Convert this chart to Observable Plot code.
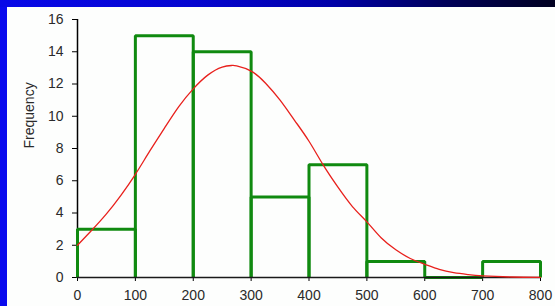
<!DOCTYPE html>
<html>
<head>
<meta charset="utf-8">
<script src="https://cdn.jsdelivr.net/npm/d3@7"></script>
<script src="https://cdn.jsdelivr.net/npm/@observablehq/plot@0.6"></script>
<style>
  html, body { margin: 0; padding: 0; background: #fff; }
  #wrap { position: relative; width: 555px; height: 306px; overflow: hidden; background: #fdfefd; }
  #chart { position: absolute; left: 0; top: 0; }
  #left { position: absolute; left: 0; top: 0; width: 7px; height: 306px; background: #0a0aee; }
  #top { position: absolute; left: 0; top: 0; width: 555px; height: 7px;
         background: linear-gradient(to right, #0808e8 0%, #0505d0 35%, #0000a8 60%, #00005a 80%, #000020 100%); }
</style>
</head>
<body>
<div id="wrap"><div id="chart"></div><div id="left"></div><div id="top"></div></div>
<script>
// Histogram bins (lower edge, upper edge) and counts
const binStart = [0, 100, 200, 300, 400, 500, 600, 700];
const binEnd   = [100, 200, 300, 400, 500, 600, 700, 800];
const counts   = [3, 15, 14, 5, 7, 1, 0, 1];

// Fitted curve
const curveX = [0, 25, 50, 75, 100, 125, 150, 175, 200, 225, 250, 267, 275, 300, 325, 350, 375, 400, 425, 450, 475, 500, 525, 550, 575, 600, 625, 650, 675, 700, 750, 800];
const curveY = [2.0, 2.95, 3.95, 5.1, 6.4, 7.85, 9.25, 10.6, 11.7, 12.55, 13.05, 13.15, 13.12, 12.8, 12.05, 11.0, 9.75, 8.45, 6.95, 5.6, 4.4, 3.45, 2.45, 1.72, 1.18, 0.82, 0.5, 0.3, 0.18, 0.1, 0.03, 0.01];

const yTicks = [0, 2, 4, 6, 8, 10, 12, 14, 16];
const xTicks = [0, 100, 200, 300, 400, 500, 600, 700, 800];

// Open-bottom bar outlines built from the bins
const outline = [];
binStart.forEach((s, i) => {
  const e = binEnd[i], n = counts[i];
  outline.push({bin: i, x: s, y: 0}, {bin: i, x: s, y: n}, {bin: i, x: e, y: n}, {bin: i, x: e, y: 0});
});
const curve = curveX.map((x, i) => ({x, y: curveY[i]}));

const chart = Plot.plot({
  width: 555,
  height: 306,
  marginLeft: 77,
  marginRight: 15,
  marginTop: 19,
  marginBottom: 29,
  style: {background: "transparent", fontFamily: "Arial, 'Liberation Sans', sans-serif", fontSize: "14px", color: "#2a2a2a"},
  x: {domain: [0, 800]},
  y: {domain: [0, 16]},
  marks: [
    Plot.axisY({ticks: yTicks, tickSize: 5, tickPadding: 9, label: null, fontSize: 14, stroke: "#000"}),
    Plot.axisX({ticks: xTicks, tickSize: 4, tickPadding: 9, label: null, fontSize: 14, stroke: "#000"}),
    Plot.ruleX([0], {y1: 0, y2: 16, stroke: "#000", strokeWidth: 1.5}),
    Plot.line(outline, {x: "x", y: "y", z: "bin", stroke: "#108a10", strokeWidth: 3, strokeLinejoin: "miter", strokeLinecap: "butt", curve: "linear"}),
    Plot.ruleY([0], {x1: 0, x2: 800, stroke: "#1a1a1a", strokeWidth: 1.5}),
    Plot.line(curve, {x: "x", y: "y", stroke: "#e8201c", strokeWidth: 1.3, curve: "natural"}),
    Plot.text(["Frequency"], {frameAnchor: "left", dx: -48, rotate: -90, fontSize: 14, fill: "#2a2a2a"})
  ]
});
document.getElementById("chart").appendChild(chart);
</script>
</body>
</html>
